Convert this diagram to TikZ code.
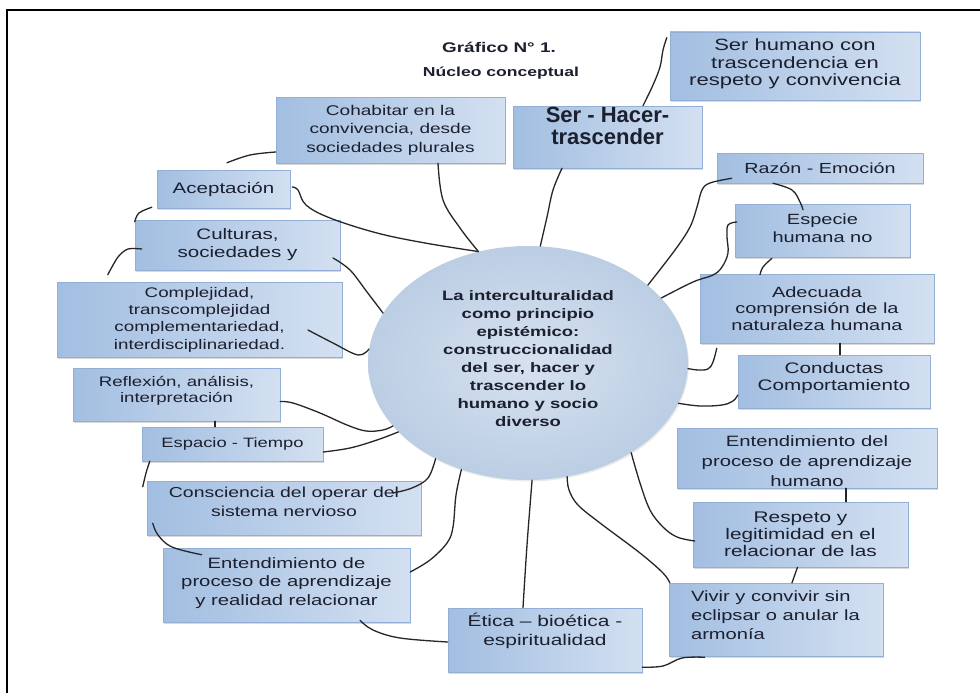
\documentclass[tikz,border=0pt]{standalone}
\usepackage{fontspec}
\setmainfont{Liberation Sans}
\newfontfamily\fw[FakeStretch=1.35]{Liberation Sans}
\usetikzlibrary{shapes.geometric,shadows}
\definecolor{boxL}{HTML}{A2BEE1}
\definecolor{boxR}{HTML}{D3E0F1}
\definecolor{boxE}{HTML}{93AFD5}
\definecolor{txt}{HTML}{1B1F2E}
\definecolor{ellin}{HTML}{D6E1EF}
\definecolor{ellout}{HTML}{BCCEE4}
\newcommand{\fz}[2]{\fw\fontsize{#1}{#2}\selectfont}
\newcommand{\rbc}[2]{\raisebox{#1}[\height][\depth]{\begin{tabular}{@{}c@{}}#2\end{tabular}}}
\newcommand{\rbl}[2]{\raisebox{#1}[\height][\depth]{\begin{tabular}{@{}l@{}}#2\end{tabular}}}
\begin{document}
\begin{tikzpicture}[x=1pt,y=-1pt,
  box/.style={rectangle, left color=boxL, right color=boxR, draw=boxE, line width=0.5pt,
    drop shadow={shadow xshift=1.2pt,shadow yshift=-1.8pt,fill=black!30},
    inner sep=0pt, align=center, text=txt, font=\fz{14.8}{18}},
  conn/.style={draw=black!85, line width=1.3pt, line cap=round, line join=round},
  ttl/.style={text=txt, inner sep=0pt},
]
\useasboundingbox (0,0) rectangle (980,693);
\fill[white] (0,0) rectangle (980,693);
\draw[line width=1.6pt] (7,693) -- (7,10) -- (980,10);

% title
\node[ttl, font=\fw\bfseries\fontsize{14}{16}\selectfont] (t1) at (499,47) {Gráfico N° 1.};
\node[ttl, font=\fw\bfseries\fontsize{13}{16}\selectfont] (t2) at (501,73) {Núcleo conceptual};

% center
\node[ellipse, minimum width=320pt, minimum height=234pt, inner sep=0pt,
  shade, inner color=ellin, outer color=ellout,
  drop shadow={shadow xshift=1pt,shadow yshift=-1.5pt,fill=black!15},
  text=txt, align=center, font=\fw\bfseries\fontsize{13.7}{18}\selectfont] (E) at (528,363)
  {\rbc{3pt}{La interculturalidad\\como principio\\epistémico:\\construccionalidad\\del ser, hacer y\\trascender lo\\humano y socio\\diverso}};

% boxes
\node[box, minimum width=250pt, minimum height=68pt, font=\fz{16.3}{17.5}] (serhum) at (795,66)
  {\rbc{1pt}{Ser humano con\\trascendencia en\\respeto y convivencia}};
\node[box, minimum width=189pt, minimum height=62pt, font=\bfseries\fontsize{22}{20}\selectfont] (ser) at (607.5,137)
  {\rbc{8pt}{Ser - Hacer-\\trascender}};
\node[box, minimum width=206pt, minimum height=30pt, font=\fz{14.6}{18}] (razon) at (820,168) {Razón - Emoción};
\node[box, minimum width=175pt, minimum height=53pt, font=\fz{14.8}{18}] (especie) at (822.5,230.5)
  {\rbc{1pt}{Especie\\humana no}};
\node[box, minimum width=234pt, minimum height=69pt, font=\fz{14.8}{16.5}] (adecuada) at (817,308.5)
  {Adecuada\\comprensión de la\\naturaleza humana};
\node[box, minimum width=192pt, minimum height=53pt, font=\fz{15.3}{17}] (conductas) at (834,381.5)
  {\rbc{3pt}{Conductas\\Comportamiento}};
\node[box, minimum width=260pt, minimum height=60pt, font=\fz{15}{20}] (entdel) at (807,458)
  {\rbc{-4pt}{Entendimiento del\\proceso de aprendizaje\\humano}};
\node[box, minimum width=215pt, minimum height=65pt, font=\fz{15.4}{17}] (respeto) at (800.5,534.5)
  {Respeto y\\legitimidad en el\\relacionar de las};
\node[box, minimum width=214pt, minimum height=73pt, font=\fz{14.9}{19}] (vivir) at (776,619.5)
  {\hspace*{14pt}\rbl{3pt}{Vivir y convivir sin\\eclipsar o anular la\\armonía}\hspace*{\fill}\hspace*{15pt}};
\node[box, minimum width=194pt, minimum height=64pt, font=\fz{15.5}{19}] (etica) at (545,640)
  {\rbc{8pt}{Ética – bioética -\\espiritualidad}};
\node[box, minimum width=247pt, minimum height=74pt, font=\fz{15}{18.5}] (entde) at (286.5,585)
  {\rbc{2pt}{Entendimiento de\\proceso de aprendizaje\\y realidad relacionar}};
\node[box, minimum width=274pt, minimum height=54pt, font=\fz{14.4}{19}] (consc) at (284,508)
  {\rbc{5pt}{Consciencia del operar del\\sistema nervioso}};
\node[box, minimum width=181pt, minimum height=34pt, font=\fz{13.6}{16}] (espacio) at (232.5,444) {Espacio - Tiempo};
\node[box, minimum width=207pt, minimum height=53pt, font=\fz{13.8}{16}] (reflex) at (176.5,394.5)
  {\rbc{3.5pt}{Reflexión, análisis,\\interpretación}};
\node[box, minimum width=285pt, minimum height=75pt, font=\fz{13.9}{17.3}] (complej) at (199.5,319.5)
  {Complejidad,\\transcomplejidad\\complementariedad,\\interdisciplinariedad.};
\node[box, minimum width=205pt, minimum height=50pt, font=\fz{15.2}{18}] (culturas) at (237.5,245)
  {Culturas,\\sociedades y};
\node[box, minimum width=133pt, minimum height=38pt, font=\fz{15.2}{18}] (acept) at (223.5,189)
  {\raisebox{3pt}{Aceptación}};
\node[box, minimum width=229pt, minimum height=66pt, font=\fz{14.1}{18.5}] (cohab) at (390.5,130)
  {Cohabitar en la\\convivencia, desde\\sociedades plurales};

% connectors
\draw[conn] plot[smooth,tension=0.6] coordinates {([shift={(47.5,0)}]cohab.south) (443,200) (460,228) (E.114)};
\draw[conn] plot[smooth,tension=0.6] coordinates {([shift={(2,-2)}]acept.east) (298,190) (306,205) (330,218) (377,233) (425,243) (E.114)};
\draw[conn] plot[smooth,tension=0.6] coordinates {([shift={(0,22)}]cohab.west) (250,155) ([shift={(3.5,-7)}]acept.north)};
\draw[conn] plot[smooth,tension=0.6] coordinates {([shift={(-5,-1)}]acept.south west) (139,213) ([shift={(0,2)}]culturas.north west)};
\draw[conn] plot[smooth,tension=0.5] coordinates {([shift={(7,4)}]culturas.west) (128,249) (118,257) ([shift={(51,-7)}]complej.north west)};
\draw[conn] plot[smooth,tension=0.6] coordinates {([shift={(95.5,13)}]culturas.center) (350,270) (367,292) (E.161)};
\draw[conn] plot[smooth,tension=0.6] coordinates {([shift={(108.5,10.5)}]complej.center) (333,343) (358,355) (E.175)};
\draw[conn] plot[smooth,tension=0.6] coordinates {([shift={(0,7)}]reflex.east) (293,403) (320,413) (347,425) (366,431) (383,430) (E.205)};
\draw[conn] ([shift={(38.5,0)}]reflex.south) -- ([shift={(-17.5,0)}]espacio.north);
\draw[conn] plot[smooth,tension=0.6] coordinates {([shift={(0,8)}]espacio.east) (350,448) (377,440) (E.208)};
\draw[conn] plot[smooth,tension=0.6] coordinates {([shift={(8,0)}]espacio.south west) (146,473) ([shift={(-4,6)}]consc.north west)};
\draw[conn] plot[smooth,tension=0.6] coordinates {([shift={(6,-12)}]consc.south west) (158,535) (172,547) ([shift={(39,7)}]entde.north west)};
\draw[conn] plot[smooth,tension=0.6] coordinates {([shift={(109,-15)}]consc.center) (412,488) (428,478) (E.226)};
\draw[conn] plot[smooth,tension=0.6] coordinates {([shift={(0,-13)}]entde.east) (430,560) (447,543) (453,527) (456,495) (E.238)};
\draw[conn] plot[smooth,tension=0.6] coordinates {([shift={(73.5,-2)}]entde.south) (373,630) (400,638) ([shift={(0,2)}]etica.west)};
\draw[conn] plot[smooth,tension=0.6] coordinates {([shift={(-22,0)}]etica.north) (527,545) (E.272)};
\draw[conn] plot[smooth,tension=0.6] coordinates {([shift={(0,-5)}]etica.south east) (663,666) (682,658) ([shift={(36,1)}]vivir.south west)};
\draw[conn] plot[smooth,tension=0.6] coordinates {([shift={(1,0)}]vivir.north west) (663,573) (640,553) (600,523) (578,505) (569,490) (E.289)};
\draw[conn] plot[smooth,tension=0.6] coordinates {([shift={(2,6.5)}]respeto.west) (677,537) (663,527) (650,510) (640,483) (E.319)};
\draw[conn] ([shift={(39,0)}]entdel.south) -- ([shift={(45.5,0)}]respeto.north);
\draw[conn] ([shift={(-3,0)}]respeto.south) -- ([shift={(16,0)}]vivir.north);
\draw[conn] plot[smooth,tension=0.6] coordinates {([shift={(0,13.5)}]conductas.west) (733,401) (722,405) (700,406) (E.345)};
\draw[conn] plot[smooth,tension=0.6] coordinates {([shift={(17,5)}]adecuada.south west) (713,362) (708,369) (698,370) (E.358)};
\draw[conn] plot[smooth,tension=0.6] coordinates {([shift={(-50.5,1)}]especie.south) (763,267) ([shift={(-57,1)}]adecuada.north)};
\draw[conn] ([shift={(23,0)}]adecuada.south) -- ([shift={(6,0)}]conductas.north);
\draw[conn] plot[smooth,tension=0.6] coordinates {([shift={(2,-8.5)}]especie.west) (728,225) (727,237) (728,253) (722,267) (713,275) (693,282) (E.26)};
\draw[conn] plot[smooth,tension=0.6] coordinates {([shift={(15,-5)}]razon.south west) (710,183) (702,190) (697,207) (690,227) (675,250) (E.33)};
\draw[conn] plot[smooth,tension=0.6] coordinates {([shift={(-47,0)}]razon.south) (792,190) (800,202) ([shift={(-19.5,6)}]especie.north)};
\draw[conn] plot[smooth,tension=0.6] coordinates {([shift={(-45.5,0)}]ser.south) (553,190) (547,217) (E.84)};
\draw[conn] plot[smooth,tension=0.6] coordinates {([shift={(35.5,0)}]ser.north) (653,85) (660,67) (663,50) ([shift={(-3,6)}]serhum.north west)};
\end{tikzpicture}
\end{document}
